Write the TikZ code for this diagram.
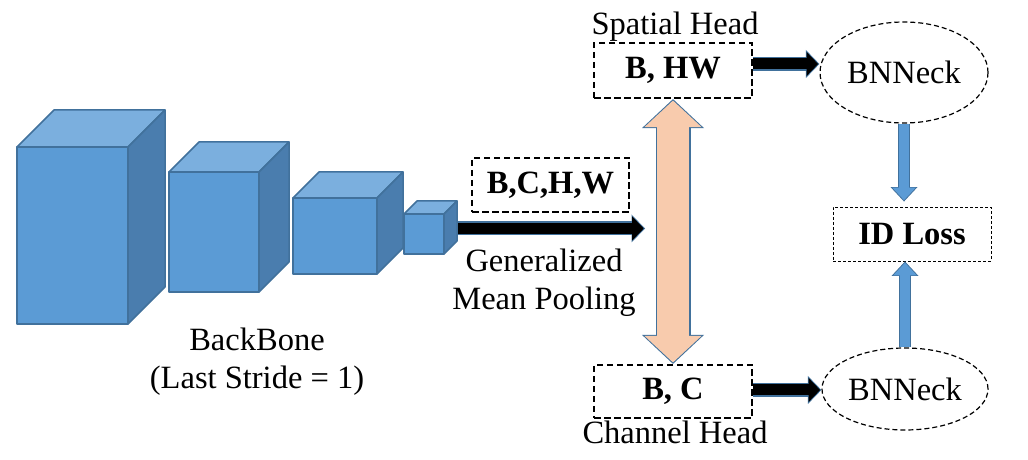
\documentclass[tikz,border=0pt]{standalone}
\usepackage{fontspec}
\setmainfont{Liberation Serif}
\usetikzlibrary{arrows.meta,shapes.geometric,positioning}

\definecolor{cubefront}{HTML}{5B9BD5}
\definecolor{cubetop}{HTML}{7BAFDE}
\definecolor{cubeside}{HTML}{4A7DAE}
\definecolor{edgeblue}{HTML}{41719C}
\definecolor{peach}{HTML}{F8CBAD}

\newcommand{\figfont}{\rmfamily\fontsize{32.5}{38}\selectfont}

\tikzset{
  every node/.style={font=\figfont},
  cube/.style={draw=edgeblue, line width=1.5pt, line join=round},
  headbox/.style={draw, line width=2.2pt, dash pattern=on 6.5pt off 3.5pt,
    minimum width=158pt, minimum height=55pt, inner sep=0pt, font=\figfont\bfseries},
  lossbox/.style={draw, line width=0.9pt, dash pattern=on 3pt off 2pt,
    minimum width=158pt, minimum height=54pt, inner sep=0pt, font=\figfont\bfseries},
  neck/.style={ellipse, draw, line width=1.2pt, dash pattern=on 5pt off 3pt, inner sep=0pt},
  blkarrow/.style={line width=11pt, black,
    -{Triangle[length=11.5pt,width=24pt,line width=0pt]}, shorten >=1.3pt,
    preaction={draw=edgeblue, line width=14pt, shorten >=0pt,
      -{Triangle[length=13.5pt,width=28pt,line width=0pt]}}},
  bluarrow/.style={line width=9.5pt, cubefront,
    -{Triangle[length=12.5pt,width=23.5pt,line width=0pt]}, shorten >=1.4pt,
    preaction={draw=edgeblue, line width=12pt, shorten >=0pt,
      -{Triangle[length=14.5pt,width=27pt,line width=0pt]}}},
  dblarrow/.style={line width=32pt, peach,
    {Triangle[length=26.5pt,width=57pt,line width=0pt]}-{Triangle[length=26.5pt,width=57pt,line width=0pt]},
    shorten <=1.5pt, shorten >=1.5pt,
    preaction={draw=edgeblue, line width=35pt, shorten <=0pt, shorten >=0pt,
      {Triangle[length=29pt,width=62pt,line width=0pt]}-{Triangle[length=29pt,width=62pt,line width=0pt]}}}
}

\begin{document}
\begin{tikzpicture}[x=1pt,y=1pt]
\useasboundingbox (0,0) rectangle (1028,460);

% backbone
\foreach \x/\y/\w/\h/\d in {17/136/111/177/37, 169/168/90/120/30, 293/186/84/76/26, 404/206/40/40/13}{
  \filldraw[cube, fill=cubefront] (\x,\y) rectangle ++(\w,\h);
  \filldraw[cube, fill=cubetop] (\x,\y+\h) -- ++(\d,\d) -- ++(\w,0) -- ++(-\d,-\d) -- cycle;
  \filldraw[cube, fill=cubeside] (\x+\w,\y) -- ++(\d,\d) -- ++(0,\h) -- ++(-\d,-\d) -- cycle;
}
\node[align=center] (bbtext) at (257,98) {BackBone\\(Last Stride = 1)};

% pooling
\coordinate (bbout) at (458,231.5);
\coordinate (gpin) at (645,231.5);
\draw[blkarrow] (bbout) -- (gpin);
\node[headbox, minimum width=157pt, minimum height=54pt] (bchw) at (550.5,275) {B,C,H,W};
\node[align=center] (gmp) at (544,177) {Generalized\\Mean Pooling};

% heads
\node[headbox] (spatial) at (673,389.5) {B, HW};
\node[anchor=base] (sptext) at (675,425) {Spatial Head};
\node[headbox, minimum height=53pt] (channel) at (673,68.5) {B, C};
\node[anchor=base] (chtext) at (675,16) {Channel Head};
\draw[dblarrow] (spatial.south) -- (channel.north);

% necks and loss
\node[neck, minimum width=168pt, minimum height=101pt] (neck1) at (904,387.5) {BNNeck};
\node[neck, minimum width=166pt, minimum height=82pt] (neck2) at (905,71) {BNNeck};
\node[lossbox] (loss) at (912,226) {ID Loss};
\draw[blkarrow] ([yshift=6.5pt]spatial.east) -- ([yshift=6.5pt]spatial.east -| neck1.west);
\draw[blkarrow] ([yshift=1.5pt]channel.east) -- ([yshift=1.5pt]channel.east -| neck2.west);
\draw[bluarrow] (neck1.south) -- ([yshift=5pt]neck1.south |- loss.north);
\draw[bluarrow] (neck2.north) -- (neck2.north |- loss.south);
\end{tikzpicture}
\end{document}
